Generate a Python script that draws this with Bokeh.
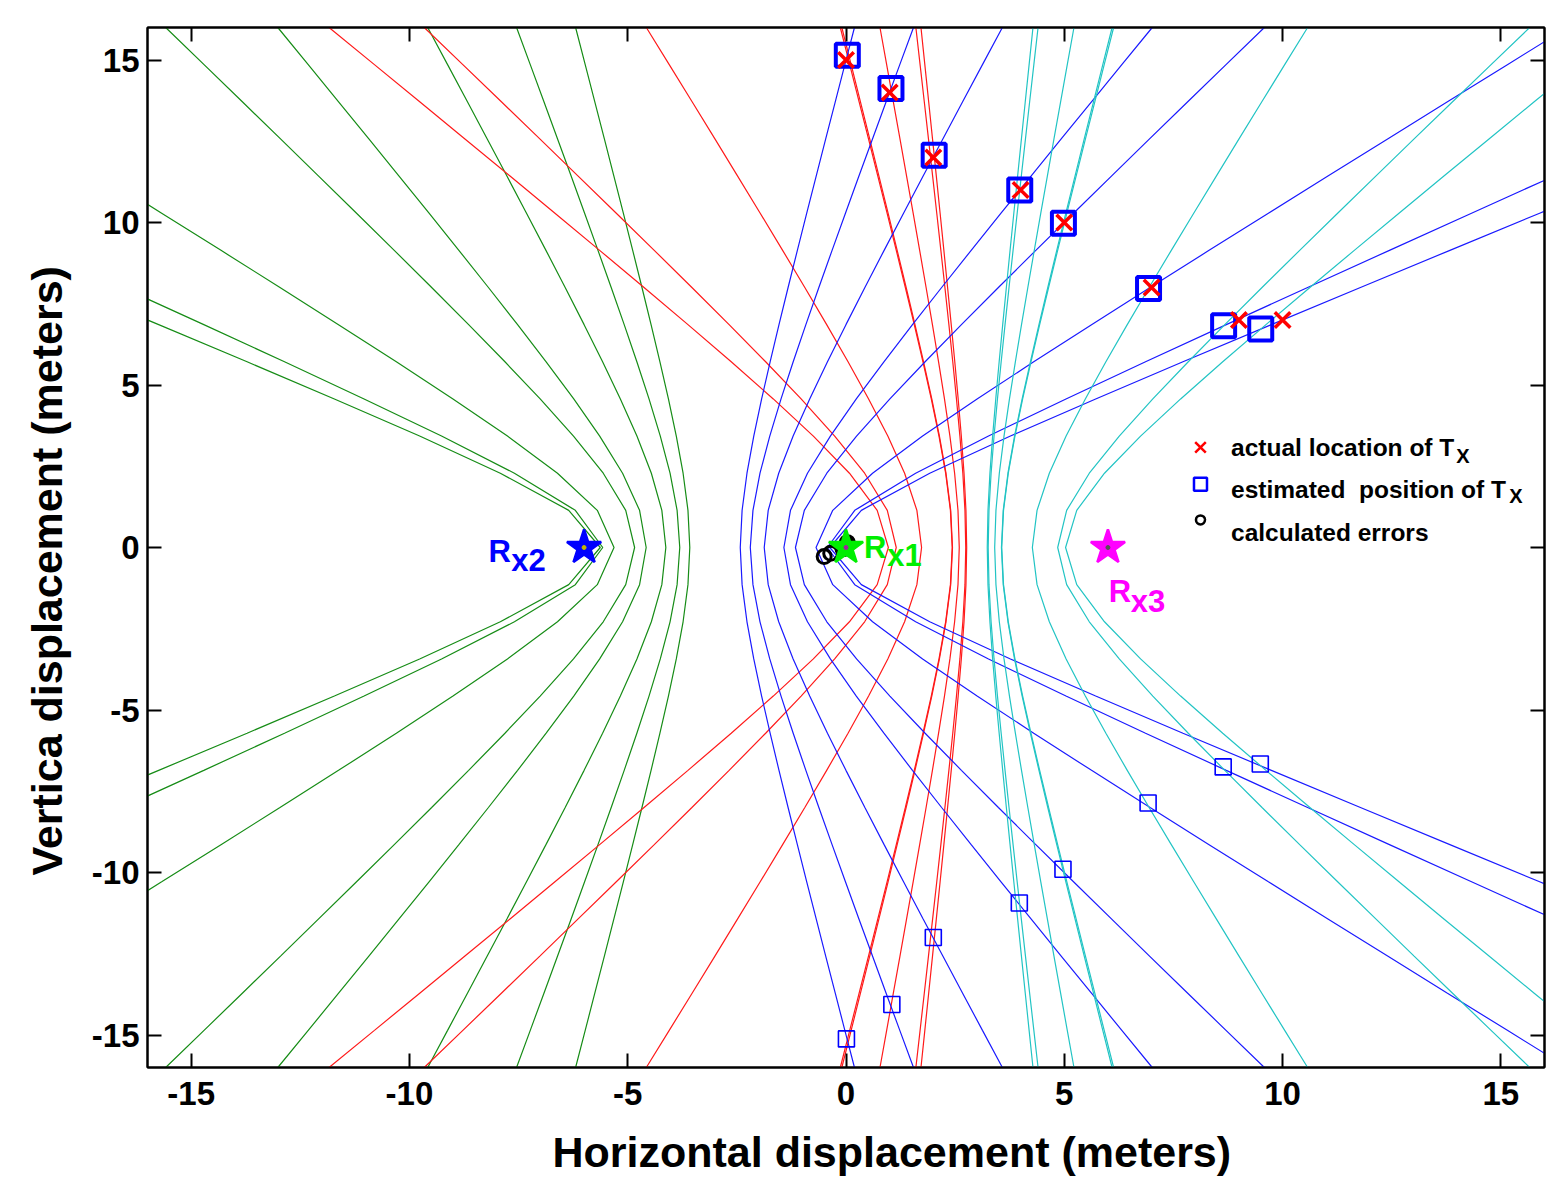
import numpy as np
from bokeh.plotting import figure
from bokeh.models import FixedTicker, Range1d, LinearAxis, Title
from bokeh.embed import file_html
from bokeh.resources import INLINE
from bokeh.core.properties import value

# ---------------- data ----------------
# receivers (Rx1, Rx2, Rx3)
rx_x = [0.0, -6.0, 6.0]
rx_y = [0.0, 0.0, 0.0]
rx_colors = ["#00ee00", "#0000ff", "#ff00ff"]
rx_center_colors = ["#a020a0", "#c8b400", "#555555"]
rx_label_main = ["R", "R", "R"]
rx_label_sub = ["x1", "x2", "x3"]
rx_label_x = [0.41, -8.19, 6.02]
rx_label_y = [0.0, -0.11, -1.36]
rx_sub_x = [0.945, -7.665, 6.52]
rx_sub_y = [-0.25, -0.415, -1.665]

# actual transmitter locations (red x)
tx_actual_x = [0, 1, 2, 4, 5, 7, 9, 10]
tx_actual_y = [15, 14, 12, 11, 10, 8, 7, 7]

# estimated transmitter positions (blue squares)
tx_est_x = [0.03, 1.03, 2.02, 3.98, 4.98, 6.93, 8.65, 9.50]
tx_est_y = [15.15, 14.12, 12.07, 11.00, 9.98, 7.97, 6.82, 6.72]
# mirror-image (ambiguous) solutions, small squares
tx_mirror_x = [0.01, 1.05, 2.00, 3.97, 4.97, 6.92, 8.64, 9.49]
tx_mirror_y = [-15.12, -14.06, -12.00, -10.94, -9.90, -7.86, -6.75, -6.66]

# calculated errors (black circles)
err_x = [0.03, 0.03, 0.02, -0.02, -0.02, -0.07, -0.35, -0.50]
err_y = [0.15, 0.12, 0.07, 0.00, -0.02, -0.03, -0.18, -0.28]

x_ticks = [-15, -10, -5, 0, 5, 10, 15]
y_ticks = [-15, -10, -5, 0, 5, 10, 15]

legend_labels = ["actual location of T", "estimated\u00a0 position of T", "calculated errors"]
legend_subs = ["X", "X"]

x_title = "Horizontal displacement (meters)"
y_title = "Vertica displacement (meters)"

# ---------------- TDOA hyperbolas through the estimated positions ----------------
y_s = np.linspace(-16, 16, 29)


def hyperbola_branches(i, j):
    xi, xj = rx_x[i], rx_x[j]
    cx = 0.5 * (xi + xj)
    c = 0.5 * abs(xj - xi)
    left, right = [], []
    for px, py in zip(tx_est_x, tx_est_y):
        di = np.hypot(px - xi, py - rx_y[i])
        dj = np.hypot(px - xj, py - rx_y[j])
        a = 0.5 * abs(di - dj)
        b2 = c * c - a * a
        s = a * np.sqrt(1.0 + y_s ** 2 / b2)
        left.append(list(cx - s))
        right.append(list(cx + s))
    return left, right


green_xs, blue_xs = hyperbola_branches(0, 1)
red_xs, cyan_xs = hyperbola_branches(0, 2)
ys_all = [list(y_s)] * len(tx_est_x)

FONT = value("Liberation Sans")

p = figure(width=1557, height=1195,
           x_range=Range1d(-16, 16), y_range=Range1d(-16, 16),
           output_backend="svg", toolbar_location=None,
           min_border_left=147, min_border_right=13,
           min_border_top=27, min_border_bottom=128)
p.grid.visible = False
p.background_fill_color = "white"
p.border_fill_color = "white"
p.outline_line_color = "black"
p.outline_line_width = 2

p.multi_line(green_xs, ys_all, line_color="#168c16", line_width=1.2)
p.multi_line(red_xs, ys_all, line_color="#ff1a1a", line_width=1.2)
p.multi_line(blue_xs, ys_all, line_color="#1a1aff", line_width=1.2)
p.multi_line(cyan_xs, ys_all, line_color="#22c4c4", line_width=1.2)

# markers
p.scatter(tx_mirror_x, tx_mirror_y, marker="square", size=16, fill_color=None,
          line_color="#0000ff", line_width=1.6)
p.scatter(tx_est_x, tx_est_y, marker="square", size=23, fill_color=None,
          line_color="#0000ff", line_width=4)
p.scatter(tx_actual_x, tx_actual_y, marker="x", size=22, line_color="#ff0000",
          line_width=3.5)
p.scatter(err_x, err_y, marker="circle", size=14, fill_color=None,
          line_color="black", line_width=3)
p.scatter(rx_x, rx_y, marker="star", size=36, fill_color=rx_colors,
          line_color=rx_colors, line_width=2.5)
p.scatter(rx_x, rx_y, marker="circle", size=4, fill_color=rx_center_colors,
          line_color=rx_center_colors)

# receiver labels
p.text(rx_label_x, rx_label_y, text=rx_label_main, text_color=rx_colors,
       text_font=FONT, text_font_style="bold", text_font_size="31px",
       text_baseline="alphabetic", text_align="left")
p.text(rx_sub_x, rx_sub_y, text=rx_label_sub, text_color=rx_colors,
       text_font=FONT, text_font_style="bold", text_font_size="31px",
       text_baseline="alphabetic", text_align="left")

# custom legend (positions in data units of the frame)
leg_mx = [8.12, 8.12, 8.12]
leg_my = [3.08, 1.95, 0.85]
p.scatter([leg_mx[0]], [leg_my[0]], marker="x", size=15, line_color="#ff0000", line_width=2.5)
p.scatter([leg_mx[1]], [leg_my[1]], marker="square", size=13, fill_color=None,
          line_color="#0000ff", line_width=2.5)
p.scatter([leg_mx[2]], [leg_my[2]], marker="circle", size=9, fill_color=None,
          line_color="black", line_width=2.5)
p.text([8.82, 8.82, 8.82], [3.08, 1.80, 0.47], text=legend_labels,
       text_font=FONT, text_font_style="bold", text_font_size="24.5px",
       text_baseline="alphabetic", text_align="left", text_color="black")
p.text([13.98, 15.19], [2.81, 1.59], text=legend_subs,
       text_font=FONT, text_font_style="bold", text_font_size="20px",
       text_baseline="alphabetic", text_align="left", text_color="black")

# axes
overrides = {t: str(t) for t in x_ticks}
for ax in [p.xaxis[0], p.yaxis[0]]:
    ax.ticker = FixedTicker(ticks=x_ticks)
    ax.major_label_overrides = overrides
    ax.major_tick_in = 14
    ax.major_tick_out = 0
    ax.minor_tick_line_color = None
    ax.major_tick_line_width = 2
    ax.major_tick_line_color = "black"
    ax.axis_line_width = 2
    ax.axis_line_color = "black"
    ax.major_label_text_font = "Liberation Sans"
    ax.major_label_text_font_style = "bold"
    ax.major_label_text_font_size = "33px"
    ax.major_label_text_color = "black"

p.xaxis.major_label_standoff = 14
p.yaxis.major_label_standoff = 8

for loc in ["above", "right"]:
    ax = LinearAxis(ticker=FixedTicker(ticks=y_ticks))
    ax.major_tick_in = 14
    ax.major_tick_out = 0
    ax.minor_tick_line_color = None
    ax.major_tick_line_width = 2
    ax.major_tick_line_color = "black"
    ax.axis_line_width = 2
    ax.axis_line_color = "black"
    ax.major_label_text_font_size = "0px"
    ax.major_label_standoff = 0
    ax.major_label_text_color = None
    p.add_layout(ax, loc)

# axis titles (as titles so that they can sit off-centre like the original)
xt = Title(text=x_title, align="left", offset=405, standoff=37,
           text_font="Liberation Sans", text_font_style="bold",
           text_font_size="43px", text_color="black")
p.add_layout(xt, "below")
yt = Title(text=y_title, align="left", offset=192, standoff=36,
           text_font="Liberation Sans", text_font_style="bold",
           text_font_size="43px", text_color="black")
p.add_layout(yt, "left")

open("out.html", "w").write(file_html(p, INLINE))
